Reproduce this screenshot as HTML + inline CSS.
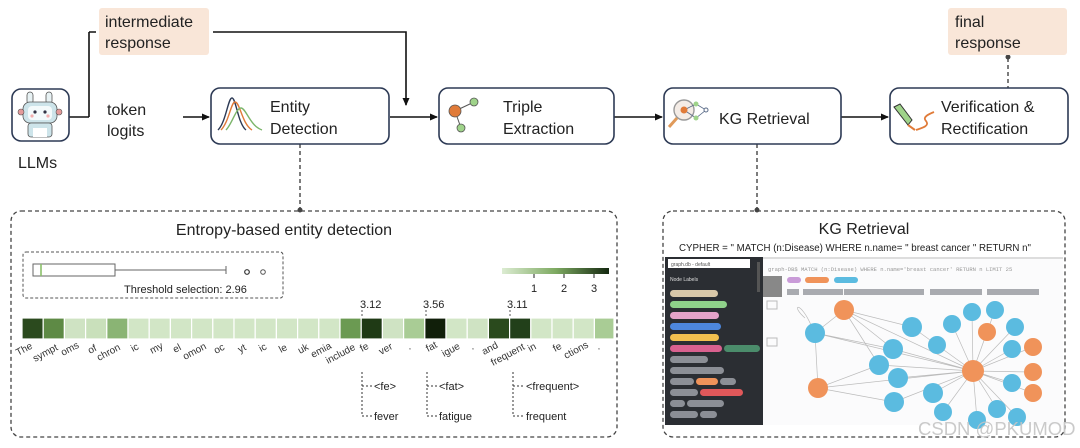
<!DOCTYPE html>
<html><head><meta charset="utf-8"><style>
html,body{margin:0;padding:0;background:#fff;}
svg{display:block;font-family:"Liberation Sans",sans-serif;}
</style></head><body>
<svg width="1080" height="448" viewBox="0 0 1080 448" xmlns="http://www.w3.org/2000/svg">
<defs>
<marker id="ar" markerWidth="8" markerHeight="8" refX="7" refY="4" orient="auto" markerUnits="userSpaceOnUse"><path d="M0,0.5 L8,4 L0,7.5 z" fill="#111"/></marker>
</defs>
<g fill="none" stroke="#111" stroke-width="1.6">
<path d="M69,117 H89 M89,32 V117 M89,32 H96"/>
<path d="M213,32 H406 V105" marker-end="url(#ar)"/>
<path d="M183,117 H209" marker-end="url(#ar)"/>
<path d="M390,117 H437" marker-end="url(#ar)"/>
<path d="M614,117 H662" marker-end="url(#ar)"/>
<path d="M841,117 H888" marker-end="url(#ar)"/>
</g>
<g fill="none" stroke="#444" stroke-width="1.4" stroke-dasharray="4,3">
<path d="M300,144 V210"/><path d="M757,144 V210"/><path d="M1008,58 V88"/>
</g>
<circle cx="1008" cy="57" r="2.5" fill="#444"/>
<circle cx="300" cy="210" r="2.5" fill="#444"/><circle cx="757" cy="210" r="2.5" fill="#444"/>

<rect x="99" y="8" width="110" height="47" rx="3" fill="#f9e6d8"/>
<text x="105" y="27" font-size="16" fill="#222">intermediate</text>
<text x="105" y="48" font-size="16" fill="#222">response</text>
<rect x="948" y="8" width="119" height="47" rx="3" fill="#f9e6d8"/>
<text x="955" y="27" font-size="16" fill="#222">final</text>
<text x="955" y="48" font-size="16" fill="#222">response</text>

<rect x="12" y="89" width="57" height="52" rx="9" fill="#fff" stroke="#2d3a55" stroke-width="1.6"/>
<g>
<rect x="27" y="92" width="6" height="12" rx="3" fill="#e8f2f4" stroke="#555" stroke-width="0.8"/>
<rect x="46" y="92" width="6" height="12" rx="3" fill="#e8f2f4" stroke="#555" stroke-width="0.8"/>
<rect x="23" y="102" width="34" height="21" rx="7" fill="#cde4ea" stroke="#555" stroke-width="0.8"/>
<rect x="28" y="106" width="24" height="14" rx="4" fill="#f4fafb"/>
<circle cx="35" cy="112" r="1.6" fill="#334"/><circle cx="45" cy="112" r="1.6" fill="#334"/>
<circle cx="32" cy="116" r="1.6" fill="#f3b0b0"/><circle cx="48" cy="116" r="1.6" fill="#f3b0b0"/>
<circle cx="21" cy="112" r="3" fill="#e49a9a" stroke="#555" stroke-width="0.6"/><circle cx="59" cy="112" r="3" fill="#e49a9a" stroke="#555" stroke-width="0.6"/>
<rect x="28" y="123" width="24" height="14" rx="3" fill="#cde4ea" stroke="#555" stroke-width="0.8"/>
<rect x="33" y="128" width="14" height="9" fill="#fff"/>
</g>
<text x="18" y="168" font-size="16" fill="#222">LLMs</text>
<text x="107" y="115" font-size="16" fill="#222">token</text>
<text x="107" y="136" font-size="16" fill="#222">logits</text>

<g fill="#fff" stroke="#2d3a55" stroke-width="1.6">
<rect x="211" y="88" width="178" height="56" rx="9"/>
<rect x="439" y="88" width="175" height="56" rx="9"/>
<rect x="664" y="88" width="177" height="56" rx="9"/>
<rect x="890" y="88" width="178" height="56" rx="9"/>
</g>
<g fill="none" stroke-width="1.4">
<path d="M218,130 C226,122 228,98 232,98 C236,98 238,124 246,130" stroke="#2d3a55"/>
<path d="M221,130 C229,122 231,102 235,102 C240,102 242,124 252,130" stroke="#e07b39"/>
<path d="M226,130 C232,124 236,108 241,108 C246,108 250,126 262,130" stroke="#7bb56a"/>
</g>
<text x="270" y="112" font-size="16" fill="#222">Entity</text>
<text x="270" y="134" font-size="16" fill="#222">Detection</text>
<path d="M455,111 L472,103 M455,111 L461,128" stroke="#555" stroke-width="1"/>
<circle cx="455" cy="111" r="6" fill="#e07b39" stroke="#555" stroke-width="0.8"/>
<circle cx="474" cy="102" r="4" fill="#9fd38a" stroke="#555" stroke-width="0.8"/>
<circle cx="461" cy="128" r="4" fill="#9fd38a" stroke="#555" stroke-width="0.8"/>
<text x="503" y="112" font-size="16" fill="#222">Triple</text>
<text x="503" y="134" font-size="16" fill="#222">Extraction</text>
<circle cx="684" cy="110" r="10" fill="#f4ece6" stroke="#999" stroke-width="1.4"/>
<path d="M677,118 L669,127" stroke="#e09a5a" stroke-width="3"/>
<path d="M684,110 L696,104 L706,110 L696,118 Z M684,110 L696,118" stroke="#5a6b88" stroke-width="0.8" fill="none"/>
<circle cx="684" cy="110" r="3.5" fill="#e07b39"/><circle cx="696" cy="104" r="2.5" fill="#9fd38a"/><circle cx="696" cy="118" r="2.5" fill="#9fd38a"/><circle cx="706" cy="110" r="2" fill="#fff" stroke="#5a6b88"/>
<text x="719" y="124" font-size="16" fill="#222">KG Retrieval</text>
<path d="M894,107 L900,104 L912,120 L908,125 Z" fill="#9fd38a" stroke="#333" stroke-width="1"/>
<path d="M908,125 L915,130" stroke="#e07b39" stroke-width="2"/>
<path d="M916,130 C922,128 930,126 926,121 C922,117 929,114 934,112" fill="none" stroke="#e07b39" stroke-width="1.8"/>
<text x="941" y="112" font-size="16" fill="#222">Verification &amp;</text>
<text x="941" y="134" font-size="16" fill="#222">Rectification</text>

<rect x="11" y="211" width="606" height="226" rx="10" fill="none" stroke="#444" stroke-width="1.3" stroke-dasharray="4,3"/>
<text x="284" y="235" font-size="16" text-anchor="middle" fill="#222">Entropy-based entity detection</text>
<rect x="23" y="252" width="260" height="46" rx="3" fill="none" stroke="#555" stroke-width="1" stroke-dasharray="3,2"/>
<rect x="33" y="264" width="82" height="12" fill="#fff" stroke="#666" stroke-width="1"/>
<line x1="41" y1="264" x2="41" y2="276" stroke="#8ac06a" stroke-width="1.6"/>
<line x1="115" y1="270" x2="226" y2="270" stroke="#666"/><line x1="226" y1="266" x2="226" y2="274" stroke="#666"/>
<circle cx="247" cy="272" r="2.3" fill="none" stroke="#333" stroke-width="1.2"/><circle cx="263" cy="272" r="2.3" fill="none" stroke="#555" stroke-width="1"/>
<text x="124" y="293" font-size="11" fill="#222">Threshold selection:  2.96</text>
<defs><linearGradient id="cb" x1="0" x2="1"><stop offset="0" stop-color="#dcecd2"/><stop offset="0.5" stop-color="#7eaa62"/><stop offset="1" stop-color="#142810"/></linearGradient></defs>
<rect x="502" y="268" width="107" height="6" fill="url(#cb)"/>
<g stroke="#222" stroke-width="1"><line x1="534" y1="274" x2="534" y2="278"/><line x1="564" y1="274" x2="564" y2="278"/><line x1="594" y1="274" x2="594" y2="278"/></g>
<g font-size="11" fill="#222" text-anchor="middle"><text x="534" y="292">1</text><text x="564" y="292">2</text><text x="594" y="292">3</text></g>
<g stroke="#fff" stroke-width="1.2">
<rect x="22" y="318" width="21.2" height="21" fill="#2b4a1e"/>
<rect x="43.2" y="318" width="21.2" height="21" fill="#5e8a45"/>
<rect x="64.4" y="318" width="21.2" height="21" fill="#cfe3c3"/>
<rect x="85.6" y="318" width="21.2" height="21" fill="#c9e0bb"/>
<rect x="106.8" y="318" width="21.2" height="21" fill="#8ab474"/>
<rect x="128" y="318" width="21.2" height="21" fill="#d2e6c6"/>
<rect x="149.2" y="318" width="21.2" height="21" fill="#d2e6c6"/>
<rect x="170.4" y="318" width="21.2" height="21" fill="#d2e6c6"/>
<rect x="191.6" y="318" width="21.2" height="21" fill="#d2e6c6"/>
<rect x="212.8" y="318" width="21.2" height="21" fill="#d2e6c6"/>
<rect x="234" y="318" width="21.2" height="21" fill="#d2e6c6"/>
<rect x="255.2" y="318" width="21.2" height="21" fill="#d2e6c6"/>
<rect x="276.4" y="318" width="21.2" height="21" fill="#d2e6c6"/>
<rect x="297.6" y="318" width="21.2" height="21" fill="#d2e6c6"/>
<rect x="318.8" y="318" width="21.2" height="21" fill="#d2e6c6"/>
<rect x="340" y="318" width="21.2" height="21" fill="#6b9a52"/>
<rect x="361.2" y="318" width="21.2" height="21" fill="#1f3a15"/>
<rect x="382.4" y="318" width="21.2" height="21" fill="#cfe3c3"/>
<rect x="403.6" y="318" width="21.2" height="21" fill="#a9cc95"/>
<rect x="424.8" y="318" width="21.2" height="21" fill="#111f0a"/>
<rect x="446" y="318" width="21.2" height="21" fill="#d2e6c6"/>
<rect x="467.2" y="318" width="21.2" height="21" fill="#cfe3c3"/>
<rect x="488.4" y="318" width="21.2" height="21" fill="#2a4a1d"/>
<rect x="509.6" y="318" width="21.2" height="21" fill="#22401a"/>
<rect x="530.8" y="318" width="21.2" height="21" fill="#d2e6c6"/>
<rect x="552" y="318" width="21.2" height="21" fill="#d2e6c6"/>
<rect x="573.2" y="318" width="21.2" height="21" fill="#d2e6c6"/>
<rect x="594.4" y="318" width="19.6" height="21" fill="#a9cc95"/>
</g>
<g stroke="#555" stroke-width="1" stroke-dasharray="2,2"><line x1="362" y1="310" x2="362" y2="318"/><line x1="426" y1="310" x2="426" y2="318"/><line x1="510" y1="310" x2="510" y2="318"/></g>
<g font-size="11" fill="#222"><text x="360" y="308">3.12</text><text x="423" y="308">3.56</text><text x="507" y="308">3.11</text></g>
<g font-size="10" fill="#333">
<text transform="translate(18,356) rotate(-28)">The</text>
<text transform="translate(35,362) rotate(-28)">sympt</text>
<text transform="translate(63,356) rotate(-28)">oms</text>
<text transform="translate(90,354) rotate(-28)">of</text>
<text transform="translate(99,361) rotate(-28)">chron</text>
<text transform="translate(133,352) rotate(-28)">ic</text>
<text transform="translate(152,354) rotate(-28)">my</text>
<text transform="translate(175,353) rotate(-28)">el</text>
<text transform="translate(185,360) rotate(-28)">omon</text>
<text transform="translate(216,354) rotate(-28)">oc</text>
<text transform="translate(240,353) rotate(-28)">yt</text>
<text transform="translate(261,352) rotate(-28)">ic</text>
<text transform="translate(281,353) rotate(-28)">le</text>
<text transform="translate(300,354) rotate(-28)">uk</text>
<text transform="translate(313,358) rotate(-28)">emia</text>
<text transform="translate(328,364) rotate(-28)">include</text>
<text transform="translate(362,352) rotate(-28)">fe</text>
<text transform="translate(381,355) rotate(-28)">ver</text>
<text transform="translate(409,350) rotate(-28)">.</text>
<text transform="translate(428,352) rotate(-28)">fat</text>
<text transform="translate(444,357) rotate(-28)">igue</text>
<text transform="translate(472,350) rotate(-28)">.</text>
<text transform="translate(484,355) rotate(-28)">and</text>
<text transform="translate(493,366) rotate(-28)">frequent</text>
<text transform="translate(530,352) rotate(-28)">in</text>
<text transform="translate(555,352) rotate(-28)">fe</text>
<text transform="translate(566,359) rotate(-28)">ctions</text>
<text transform="translate(598,350) rotate(-28)">.</text>
</g>
<g fill="none" stroke="#333" stroke-width="1" stroke-dasharray="2,2">
<path d="M362,372 V416 H372 M362,386 H372"/>
<path d="M427,372 V416 H437 M427,386 H437"/>
<path d="M513,372 V416 H523 M513,386 H523"/>
</g>
<g font-size="11" fill="#222">
<text x="374" y="390">&lt;fe&gt;</text><text x="374" y="420">fever</text>
<text x="439" y="390">&lt;fat&gt;</text><text x="439" y="420">fatigue</text>
<text x="526" y="390">&lt;frequent&gt;</text><text x="526" y="420">frequent</text>
</g>

<rect x="663" y="211" width="402" height="226" rx="10" fill="none" stroke="#444" stroke-width="1.3" stroke-dasharray="4,3"/>
<text x="864" y="234" font-size="16" text-anchor="middle" fill="#222">KG Retrieval</text>
<text x="679" y="251" font-size="10" fill="#222" textLength="352" lengthAdjust="spacingAndGlyphs">CYPHER = " MATCH (n:Disease) WHERE n.name= " breast cancer "  RETURN n"</text>
<rect x="665" y="257" width="98" height="168" fill="#2b2e33"/>
<rect x="668" y="259" width="82" height="9" fill="#fff"/>
<text x="671" y="266" font-size="5" fill="#555">graph.db - default</text>
<text x="670" y="281" font-size="5" fill="#ddd">Node Labels</text>
<g>
<rect x="670" y="290" width="48" height="7" rx="3.5" fill="#d9c8a9"/>
<rect x="670" y="301" width="57" height="7" rx="3.5" fill="#8fd18a"/>
<rect x="670" y="312" width="49" height="7" rx="3.5" fill="#e5a3c9"/>
<rect x="670" y="323" width="51" height="7" rx="3.5" fill="#4d87dd"/>
<rect x="670" y="334" width="49" height="7" rx="3.5" fill="#f2c04f"/>
<rect x="670" y="345" width="52" height="7" rx="3.5" fill="#d9618f"/>
<rect x="724" y="345" width="36" height="7" rx="3.5" fill="#4b8c6b"/>
<rect x="670" y="356" width="38" height="7" rx="3.5" fill="#8c8f96"/>
<rect x="670" y="367" width="54" height="7" rx="3.5" fill="#8c8f96"/>
<rect x="670" y="378" width="24" height="7" rx="3.5" fill="#8c8f96"/>
<rect x="696" y="378" width="22" height="7" rx="3.5" fill="#f0935a"/>
<rect x="720" y="378" width="16" height="7" rx="3.5" fill="#8c8f96"/>
<rect x="670" y="389" width="28" height="7" rx="3.5" fill="#8c8f96"/>
<rect x="700" y="389" width="43" height="7" rx="3.5" fill="#e0585a"/>
<rect x="670" y="400" width="15" height="7" rx="3.5" fill="#8c8f96"/>
<rect x="687" y="400" width="37" height="7" rx="3.5" fill="#8c8f96"/>
<rect x="670" y="411" width="28" height="7" rx="3.5" fill="#8c8f96"/>
<rect x="700" y="411" width="17" height="7" rx="3.5" fill="#8c8f96"/>
</g>
<rect x="757" y="262" width="3" height="30" fill="#555"/>
<rect x="763" y="257" width="300" height="168" fill="#fbfbfc"/>
<rect x="763" y="257" width="300" height="2" fill="#ddd"/>
<text x="768" y="271" font-size="5.5" fill="#999" font-family="Liberation Mono,monospace">graph-DB$ MATCH (n:Disease) WHERE n.name='breast cancer' RETURN n LIMIT 25</text>
<rect x="763" y="276" width="19" height="21" fill="#888"/>
<rect x="767" y="301" width="10" height="8" fill="none" stroke="#bbb"/>
<rect x="767" y="338" width="10" height="8" fill="none" stroke="#bbb"/>
<rect x="787" y="277" width="14" height="6" rx="3" fill="#c99bd8"/>
<rect x="805" y="277" width="24" height="6" rx="3" fill="#f0935a"/>
<rect x="834" y="277" width="24" height="6" rx="3" fill="#5bbbe0"/>
<g fill="#a9abb0"><rect x="787" y="289" width="12" height="6"/><rect x="803" y="289" width="40" height="6"/><rect x="844" y="289" width="80" height="6"/><rect x="930" y="289" width="52" height="6"/><rect x="987" y="289" width="52" height="6"/></g>
<g stroke="#bbb" stroke-width="0.7" fill="none">
<path d="M973,371 L815,333 M973,371 L844,310 M973,371 L818,388 M973,371 L912,327 M973,371 L893,349 M973,371 L879,365 M973,371 L898,378 M973,371 L894,402 M973,371 L933,393 M973,371 L937,345 M973,371 L952,324 M973,371 L972,312 M973,371 L995,310 M973,371 L1015,327 M973,371 L987,332 M973,371 L1033,347 M973,371 L1012,349 M973,371 L1033,372 M973,371 L1012,383 M973,371 L1033,393 M973,371 L943,412 M973,371 L977,420 M973,371 L997,409 M973,371 L1017,417 M815,333 L818,388 M844,310 L912,327 M844,310 L893,349 M815,333 L844,310 M818,388 L894,402 M818,388 L879,365 M815,333 L893,349 M844,310 L879,365 M811,325 C800,300 790,305 805,318"/>
</g>
<g fill="#f0935a"><circle cx="844" cy="310" r="10"/><circle cx="818" cy="388" r="10"/><circle cx="987" cy="332" r="9"/><circle cx="973" cy="371" r="11"/><circle cx="1033" cy="347" r="9"/><circle cx="1033" cy="372" r="9"/><circle cx="1033" cy="393" r="9"/></g>
<g fill="#5bbbe0"><circle cx="815" cy="333" r="10"/><circle cx="912" cy="327" r="10"/><circle cx="972" cy="312" r="9"/><circle cx="995" cy="310" r="9"/><circle cx="952" cy="324" r="9"/><circle cx="1015" cy="327" r="9"/><circle cx="893" cy="349" r="10"/><circle cx="937" cy="345" r="9"/><circle cx="1012" cy="349" r="9"/><circle cx="879" cy="365" r="10"/><circle cx="898" cy="378" r="10"/><circle cx="1012" cy="383" r="9"/><circle cx="933" cy="393" r="10"/><circle cx="894" cy="402" r="10"/><circle cx="943" cy="412" r="9"/><circle cx="977" cy="420" r="9"/><circle cx="997" cy="409" r="9"/><circle cx="1017" cy="417" r="9"/></g>
<text x="918" y="435" font-size="18.5" fill="#c4c4c4" fill-opacity="0.9">CSDN @PKUMOD</text>
</svg>
</body></html>
